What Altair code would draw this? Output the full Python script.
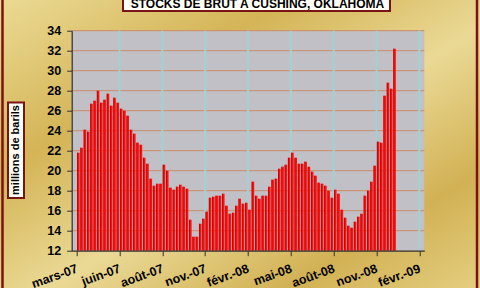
import json
import altair as alt
import pandas as pd

# ---- data (weekly stocks, millions of barrels) ----
stocks = [
    21.8, 22.3, 24.1, 23.9, 26.7, 27.0, 28.0, 26.8, 27.1, 27.7,
    26.5, 27.3, 26.8, 26.2, 26.0, 25.5, 24.1, 23.7, 22.8, 22.6,
    21.3, 20.7, 19.2, 18.5, 18.7, 18.7, 20.6, 20.0, 18.3, 18.1,
    18.4, 18.6, 18.4, 18.2, 15.1, 13.4, 13.4, 14.7, 15.2, 15.9,
    17.3, 17.4, 17.5, 17.5, 17.7, 16.5, 15.7, 15.8, 16.5, 17.2,
    16.7, 16.8, 16.1, 18.9, 17.5, 17.2, 17.5, 17.5, 18.4, 19.1,
    19.2, 20.2, 20.4, 20.6, 21.3, 21.8, 21.3, 20.7, 20.7, 20.9,
    20.4, 19.9, 19.5, 18.8, 18.7, 18.5, 18.0, 17.3, 18.1, 17.7,
    16.1, 15.3, 14.5, 14.3, 14.9, 15.4, 15.7, 17.5, 18.0, 18.9,
    20.5, 22.9, 22.8, 27.5, 28.8, 28.2, 32.2,
]
weeks = list(range(len(stocks)))  # week slot of each bar (first = 2 mars 2007)

x_tick_pos = [0, 13, 26, 39, 52, 65, 78, 91, 104]
x_tick_labels = ["mars-07", "juin-07", "août-07", "nov.-07", "févr.-08",
                 "mai-08", "août-08", "nov.-08", "févr.-09"]
y_ticks = [12, 14, 16, 18, 20, 22, 24, 26, 28, 30, 32, 34]

title_text = "STOCKS DE BRUT A CUSHING, OKLAHOMA"
y_title = "millions de barils"

# ---- layout ----
PL, PT = 71.7, 30.7
W, H = 352.6, 220.0
TOTAL_W, TOTAL_H = 480, 288
FONT = "Liberation Sans"

df = pd.DataFrame({"week": weeks, "stock": stocks})
df["center"] = df["week"] + 0.5

xscale = alt.Scale(domain=[x_tick_pos[0], x_tick_pos[-1]], nice=False, zero=False)
yscale = alt.Scale(domain=[y_ticks[0], y_ticks[-1]], nice=False, zero=False)

label_expr = f"{json.dumps(x_tick_labels, ensure_ascii=False)}[indexof({json.dumps(x_tick_pos)}, datum.value)]"

xaxis = alt.Axis(
    values=x_tick_pos, labelExpr=label_expr, title=None, grid=False,
    labelAngle=340, labelAlign="right", labelBaseline="middle",
    labelPadding=12, tickSize=5, labelOverlap=False, labelFlush=False,
    labelBound=False, labelFont=FONT, labelFontSize=12.5, labelFontWeight="bold",
    labelColor="#000000", domainColor="#303030", tickColor="#303030",
    domainWidth=1.2, zindex=1,
)
yaxis = alt.Axis(
    values=y_ticks, title=None, grid=False, labelPadding=6, tickSize=5,
    labelFont=FONT, labelFontSize=12.5, labelFontWeight="bold",
    labelColor="#000000", domainColor="#303030", tickColor="#303030",
    domainWidth=1.2, labelOverlap=False, labelFlush=False, zindex=1,
)

one = alt.Data(values=[{}])

gold = alt.LinearGradient(
    gradient="linear", x1=0, y1=0, x2=1, y2=1,
    stops=[
        alt.GradientStop(color="#EBDA94", offset=0.0),
        alt.GradientStop(color="#D4B456", offset=0.3),
        alt.GradientStop(color="#EAD995", offset=0.55),
        alt.GradientStop(color="#D2B154", offset=0.8),
        alt.GradientStop(color="#E4CE80", offset=1.0),
    ],
)

background = alt.Chart(one).mark_rect(fill=gold).encode(
    x=alt.value(-PL), x2=alt.value(TOTAL_W - PL),
    y=alt.value(-PT), y2=alt.value(TOTAL_H - PT),
)
frame = alt.Chart(one).mark_rect(fillOpacity=0, stroke="#7A1414", strokeWidth=2.5).encode(
    x=alt.value(2.5 - PL), x2=alt.value(TOTAL_W - 3 - PL),
    y=alt.value(-PT - 5), y2=alt.value(TOTAL_H - PT + 5),
)
plot_bg = alt.Chart(one).mark_rect(fill="#C0C0C6").encode(
    x=alt.value(0), x2=alt.value(W), y=alt.value(0), y2=alt.value(H),
)

hgrid = alt.Chart(pd.DataFrame({"v": y_ticks[1:]})).mark_rule(
    color="#CC8A66", strokeWidth=1
).encode(y=alt.Y("v:Q", scale=yscale, axis=yaxis))

vgrid = alt.Chart(pd.DataFrame({"t": x_tick_pos[1:]})).mark_rule(
    color="#A0D2D2", strokeWidth=2
).encode(x=alt.X("t:Q", scale=xscale, axis=xaxis))

bars = alt.Chart(df).mark_bar(width=2.5, fill="#FF1010").encode(
    x=alt.X("center:Q", scale=xscale, axis=xaxis),
    y=alt.Y("stock:Q", scale=yscale, axis=yaxis),
    y2=alt.datum(y_ticks[0]),
)
bar_edges = alt.Chart(df).mark_bar(width=0.8, fill="#B80000", xOffset=-0.85).encode(
    x=alt.X("center:Q", scale=xscale, axis=xaxis),
    y=alt.Y("stock:Q", scale=yscale, axis=yaxis),
    y2=alt.datum(y_ticks[0]),
)

title_box = alt.Chart(one).mark_rect(fill="#FFFFF8", stroke="#7A1414", strokeWidth=2).encode(
    x=alt.value(123 - PL), x2=alt.value(390 - PL),
    y=alt.value(-40 - PT), y2=alt.value(11 - PT),
)
title = alt.Chart(one).mark_text(
    font=FONT, fontSize=12, fontWeight="bold", color="#000000",
    align="center", baseline="alphabetic",
).encode(x=alt.value(257.5 - PL), y=alt.value(8 - PT), text=alt.value(title_text))

ybox = alt.Chart(one).mark_rect(fill="#FFFFF8", stroke="#7A1414", strokeWidth=2).encode(
    x=alt.value(8 - PL), x2=alt.value(24 - PL),
    y=alt.value(102.5 - PT), y2=alt.value(198 - PT),
)
ytitle = alt.Chart(one).mark_text(
    font=FONT, fontSize=11, fontWeight="bold", color="#000000",
    align="center", baseline="middle", angle=270,
).encode(x=alt.value(16.5 - PL), y=alt.value(150 - PT), text=alt.value(y_title))

chart = alt.layer(
    background, frame, plot_bg, hgrid, vgrid, bars, bar_edges,
    title_box, title, ybox, ytitle
).properties(
    width=W, height=H,
    autosize=alt.AutoSizeParams(type="none"),
    padding={"left": PL, "top": PT, "right": TOTAL_W - PL - W, "bottom": TOTAL_H - PT - H},
).configure_view(stroke=None).configure(background="#DCC16A")

chart.save("out.html", embed_options={"renderer": "svg", "actions": False})
